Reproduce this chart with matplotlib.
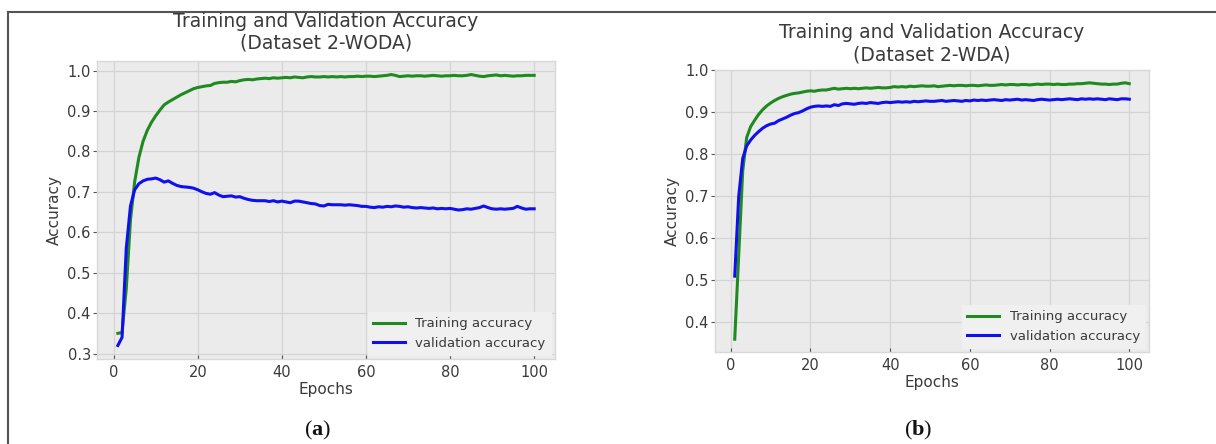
import matplotlib
matplotlib.use("Agg")
import matplotlib.pyplot as plt
from matplotlib.lines import Line2D

epochs = list(range(1, 101))

train_woda = [
    0.350, 0.352, 0.460, 0.630, 0.725, 0.785, 0.825, 0.852, 0.872, 0.888,
    0.902, 0.915, 0.922, 0.928, 0.934, 0.940, 0.945, 0.950, 0.955, 0.958,
    0.960, 0.962, 0.963, 0.968, 0.970, 0.971, 0.971, 0.973, 0.972, 0.975,
    0.977, 0.978, 0.977, 0.979, 0.980, 0.981, 0.980, 0.982, 0.981, 0.982,
    0.983, 0.982, 0.984, 0.983, 0.982, 0.984, 0.985, 0.984, 0.984, 0.985,
    0.984, 0.985, 0.984, 0.985, 0.984, 0.985, 0.985, 0.986, 0.985, 0.986,
    0.986, 0.985, 0.986, 0.987, 0.988, 0.990, 0.988, 0.985, 0.986, 0.987,
    0.986, 0.987, 0.987, 0.986, 0.987, 0.988, 0.987, 0.986, 0.987, 0.987,
    0.988, 0.987, 0.987, 0.988, 0.990, 0.988, 0.986, 0.985, 0.987, 0.988,
    0.989, 0.987, 0.988, 0.987, 0.986, 0.987, 0.987, 0.988, 0.988, 0.988,
]
val_woda = [
    0.320, 0.340, 0.560, 0.665, 0.705, 0.720, 0.727, 0.731, 0.732, 0.734,
    0.730, 0.724, 0.727, 0.721, 0.716, 0.713, 0.712, 0.711, 0.709, 0.705,
    0.700, 0.696, 0.694, 0.698, 0.692, 0.688, 0.689, 0.690, 0.687, 0.688,
    0.684, 0.681, 0.679, 0.678, 0.678, 0.678, 0.676, 0.678, 0.675, 0.677,
    0.675, 0.673, 0.677, 0.677, 0.675, 0.673, 0.671, 0.670, 0.666, 0.665,
    0.669, 0.668, 0.668, 0.668, 0.667, 0.668, 0.667, 0.666, 0.664, 0.664,
    0.662, 0.661, 0.663, 0.662, 0.664, 0.663, 0.665, 0.664, 0.662, 0.663,
    0.661, 0.660, 0.661, 0.660, 0.659, 0.660, 0.658, 0.659, 0.658, 0.659,
    0.657, 0.655, 0.656, 0.658, 0.657, 0.659, 0.661, 0.665, 0.661, 0.658,
    0.657, 0.658, 0.657, 0.658, 0.659, 0.664, 0.660, 0.657, 0.658, 0.658,
]
train_wda = [
    0.360, 0.560, 0.760, 0.840, 0.866, 0.881, 0.895, 0.906, 0.915, 0.922,
    0.928, 0.933, 0.937, 0.940, 0.943, 0.945, 0.946, 0.948, 0.950, 0.951,
    0.950, 0.952, 0.953, 0.953, 0.955, 0.957, 0.955, 0.956, 0.957, 0.956,
    0.957, 0.956, 0.957, 0.958, 0.957, 0.958, 0.959, 0.958, 0.958, 0.959,
    0.961, 0.960, 0.961, 0.960, 0.962, 0.961, 0.962, 0.963, 0.962, 0.962,
    0.963, 0.961, 0.962, 0.963, 0.964, 0.963, 0.964, 0.964, 0.963, 0.964,
    0.964, 0.963, 0.964, 0.965, 0.964, 0.964, 0.965, 0.966, 0.965, 0.966,
    0.966, 0.965, 0.966, 0.966, 0.965, 0.966, 0.967, 0.966, 0.967, 0.967,
    0.966, 0.967, 0.966, 0.966, 0.967, 0.967, 0.968, 0.968, 0.969, 0.970,
    0.969, 0.968, 0.967, 0.967, 0.966, 0.967, 0.967, 0.969, 0.970, 0.968,
]
val_wda = [
    0.510, 0.700, 0.790, 0.820, 0.834, 0.845, 0.854, 0.862, 0.868, 0.872,
    0.874, 0.880, 0.884, 0.888, 0.893, 0.897, 0.899, 0.903, 0.908, 0.912,
    0.914, 0.915, 0.914, 0.915, 0.914, 0.918, 0.916, 0.920, 0.921, 0.920,
    0.919, 0.921, 0.922, 0.921, 0.923, 0.922, 0.921, 0.923, 0.924, 0.923,
    0.924, 0.925, 0.924, 0.925, 0.924, 0.926, 0.925, 0.926, 0.927, 0.926,
    0.926, 0.927, 0.928, 0.926, 0.927, 0.928, 0.927, 0.926, 0.928, 0.927,
    0.929, 0.928, 0.929, 0.928, 0.929, 0.930, 0.929, 0.928, 0.930, 0.929,
    0.930, 0.931, 0.929, 0.930, 0.929, 0.928, 0.930, 0.931, 0.930, 0.929,
    0.930, 0.931, 0.930, 0.931, 0.932, 0.931, 0.930, 0.932, 0.931, 0.932,
    0.931, 0.932, 0.931, 0.930, 0.932, 0.931, 0.930, 0.932, 0.932, 0.931,
]

titles = ["Training and Validation Accuracy\n(Dataset 2-WODA)",
          "Training and Validation Accuracy\n(Dataset 2-WDA)"]
captions = ["a", "b"]
legend_labels = ["Training accuracy", "validation accuracy"]

plt.rcParams["font.family"] = "DejaVu Sans"
plt.rcParams["mathtext.fontset"] = "custom"
plt.rcParams["mathtext.rm"] = "Liberation Serif"
plt.rcParams["mathtext.bf"] = "Liberation Serif:bold"

fig = plt.figure(figsize=(12.16, 4.44), dpi=100)
fig.patch.set_facecolor("white")

# panel rectangles in figure fractions
rects = [[0.0798, 0.1914, 0.3766, 0.6712],
         [0.5880, 0.2072, 0.3569, 0.6351]]
series = [(train_woda, val_woda), (train_wda, val_wda)]
yticks = [[0.3, 0.4, 0.5, 0.6, 0.7, 0.8, 0.9, 1.0],
          [0.4, 0.5, 0.6, 0.7, 0.8, 0.9, 1.0]]
caption_x = [318 / 1216, 918 / 1216]
title_pads = [9, 7]

text_col = "#3a3a3a"
for i in range(2):
    ax = fig.add_axes(rects[i])
    ax.set_facecolor("#ebebeb")
    tr, va = series[i]
    ax.plot(epochs, tr, color="#1f8a1f", lw=2.2, label=legend_labels[0])
    ax.plot(epochs, va, color="#1010ee", lw=2.2, label=legend_labels[1])
    ax.set_yticks(yticks[i])
    ax.set_xticks([0, 20, 40, 60, 80, 100])
    ax.grid(True, color="#d4d4d4", lw=0.9)
    ax.set_axisbelow(True)
    for sp in ax.spines.values():
        sp.set_color("#d8d8d8")
        sp.set_linewidth(1.0)
    ax.tick_params(axis="y", direction="out", length=3, color="#555555",
                   labelcolor=text_col, labelsize=10.5, pad=1.5)
    ax.tick_params(axis="x", direction="in", length=3, color="#555555",
                   labelcolor=text_col, labelsize=10.5, pad=4)
    ax.set_xlabel("Epochs", fontsize=11, color=text_col, labelpad=2)
    ax.set_ylabel("Accuracy", fontsize=11, color=text_col, labelpad=4)
    ax.set_title(titles[i], fontsize=13.5, color=text_col, pad=title_pads[i],
                 linespacing=1.2)
    leg = ax.legend(loc="lower right", fontsize=9.5, frameon=True,
                    facecolor="#f0f0f0", edgecolor="#f0f0f0",
                    framealpha=1.0, fancybox=False, handlelength=2.4,
                    borderaxespad=0.3)
    for t in leg.get_texts():
        t.set_color(text_col)
    fig.text(caption_x[i], 1 - 430 / 444,
             r"$\mathrm{(}\mathbf{%s}\mathrm{)}$" % captions[i],
             fontsize=16, ha="center", va="center", color="#111111")

# outer frame lines (top and left)
fig.add_artist(Line2D([8 / 1216, 1.0], [1 - 12 / 444, 1 - 12 / 444],
                      transform=fig.transFigure, color="#555555", lw=1.5))
fig.add_artist(Line2D([8 / 1216, 8 / 1216], [0.0, 1 - 12 / 444],
                      transform=fig.transFigure, color="#555555", lw=1.5))

fig.savefig("out.png", dpi=100, facecolor="white")
